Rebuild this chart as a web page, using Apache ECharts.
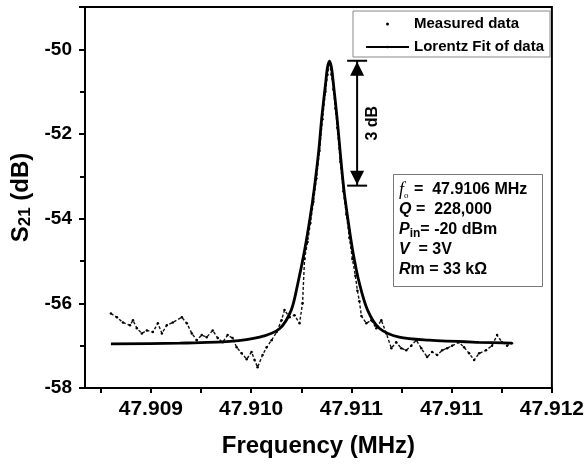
<!DOCTYPE html>
<html>
<head>
<meta charset="utf-8">
<script src="https://cdn.jsdelivr.net/npm/echarts@6/dist/echarts.min.js"></script>
<style>
  html, body { margin: 0; padding: 0; background: #fff; }
  #chart { width: 587px; height: 465px; }
</style>
</head>
<body>
<div id="chart"></div>
<script>
// measured S21 trace (MHz, dB)
const measFreq = [
  47.909071, 47.909113, 47.909155, 47.909204, 47.909225, 47.909252, 47.909287, 47.909322,
  47.909364, 47.909399, 47.909427, 47.909461, 47.909503, 47.909566, 47.909601, 47.909636,
  47.909670, 47.909705, 47.909740, 47.909782, 47.909817, 47.909851, 47.909886, 47.909921,
  47.909949, 47.909984, 47.910019, 47.910053, 47.910074, 47.910095, 47.910130, 47.910158,
  47.910193, 47.910228, 47.910262, 47.910283, 47.910318, 47.910353, 47.910388, 47.910409,
  47.910423, 47.910444, 47.910464, 47.910485, 47.910506, 47.910527, 47.910548, 47.910569,
  47.910583, 47.910597, 47.910611, 47.910625, 47.910639, 47.910652, 47.910673, 47.910694,
  47.910715, 47.910736, 47.910757, 47.910778, 47.910792, 47.910806, 47.910820,
  47.910854, 47.910889, 47.910924, 47.910959, 47.910994, 47.911029, 47.911063, 47.911098,
  47.911133, 47.911168, 47.911203, 47.911238, 47.911279, 47.911314, 47.911349, 47.911384,
  47.911419, 47.911453, 47.911502, 47.911537, 47.911572, 47.911607, 47.911642, 47.911690,
  47.911732, 47.911767, 47.911802, 47.911837, 47.911871
]
const measS21 = [
  -56.24, -56.33, -56.45, -56.52, -56.40, -56.59, -56.71, -56.64,
  -56.68, -56.47, -56.71, -56.52, -56.45, -56.33, -56.47, -56.71,
  -56.87, -56.75, -56.80, -56.64, -56.82, -56.92, -56.75, -56.82,
  -57.04, -57.18, -57.32, -57.15, -57.34, -57.51, -57.22, -57.04,
  -56.87, -56.68, -56.40, -56.16, -56.33, -56.28, -56.47, -56.00,
  -54.95, -54.55, -54.10, -53.60, -53.05, -52.40, -51.65, -51.00,
  -50.60, -50.30, -50.60, -50.95, -51.40, -51.85, -52.65, -53.35,
  -53.90, -54.45, -54.95, -55.35, -55.70, -55.95, -56.30,
  -56.47, -56.40, -56.59, -56.40, -56.71, -57.06, -56.92, -57.06,
  -57.11, -57.00, -56.87, -57.06, -57.27, -57.15, -57.22, -57.11,
  -57.06, -57.00, -56.92, -57.04, -57.18, -57.34, -57.18, -57.11,
  -57.00, -56.75, -56.92, -57.00, -56.94
]

// Lorentz fit curve
const fitFreq = [
  47.909071, 47.909552, 47.909900, 47.910109, 47.910248, 47.910330, 47.910376, 47.910423,
  47.910462, 47.910492, 47.910522, 47.910543, 47.910569, 47.910583, 47.910597, 47.910611,
  47.910625, 47.910650, 47.910671, 47.910696, 47.910724, 47.910759, 47.910806, 47.910863,
  47.910945, 47.911084, 47.911293, 47.911641, 47.911871
]
const fitS21 = [
  -56.96, -56.94, -56.90, -56.80, -56.60, -56.16, -55.53, -54.75,
  -53.97, -53.26, -52.40, -51.62, -50.83, -50.43, -50.28, -50.43,
  -50.83, -51.62, -52.40, -53.26, -53.97, -54.75, -55.53, -56.16,
  -56.59, -56.80, -56.87, -56.92, -56.94
]

// 3 dB marker: [freq, top, bottom]
const dbMarker = [[47.910790, -50.27, -53.22]]

const xTickValues = [47.90935, 47.91005, 47.91075, 47.91145, 47.91215]
const xTickLabels = ['47.909', '47.910', '47.911', '47.911', '47.912']
const xMinorValues = [47.90900, 47.90970, 47.91040, 47.91110, 47.91180]

const FONT = 'Liberation Sans, Arial, sans-serif'

const zip = (a, b) => a.map((v, i) => [v, b[i]])

var myChart = echarts.init(document.getElementById('chart'))

var option = {
    animation: false,
    backgroundColor: '#fff',
    grid: {
        left: 85, right: 34, top: 7, bottom: 77,
        show: true, borderColor: '#000', borderWidth: 2
    },
    legend: {
        orient: 'vertical',
        left: 353, top: 11,
        padding: [5, 6, 2, 12],
        borderColor: '#888', borderWidth: 1,
        backgroundColor: '#fff',
        itemWidth: 43, itemHeight: 3, itemGap: 7,
        textStyle: { fontFamily: FONT, fontWeight: 'bold', fontSize: 15, color: '#000', lineHeight: 16 },
        data: [
            { name: 'Measured data', icon: 'circle', itemStyle: { color: '#000' } },
            { name: 'Lorentz Fit of data' }
        ]
    },
    xAxis: {
        type: 'value',
        min: 47.90889, max: 47.91215,
        name: 'Frequency (MHz)',
        nameLocation: 'middle',
        nameGap: 46,
        nameTextStyle: { fontFamily: FONT, fontWeight: 'bold', fontSize: 24, color: '#000' },
        axisLine: { lineStyle: { color: '#000', width: 2 } },
        axisTick: { customValues: xTickValues.concat(xMinorValues), length: 5, lineStyle: { color: '#000', width: 2 } },
        axisLabel: {
            customValues: xTickValues,
            margin: 11,
            fontFamily: FONT, fontWeight: 'bold', fontSize: 21, color: '#000',
            formatter: v => xTickLabels[xTickValues.findIndex(t => Math.abs(t - v) < 1e-7)]
        },
        splitLine: { show: false }
    },
    yAxis: {
        type: 'value',
        min: -58, max: -49, interval: 2,
        name: '{s|S}{sub|21}{s| (dB)}',
        nameLocation: 'middle',
        nameGap: 50,
        nameRotate: 90,
        nameTextStyle: {
            rich: {
                s: { fontFamily: FONT, fontWeight: 'bold', fontSize: 24, color: '#000' },
                sub: { fontFamily: FONT, fontWeight: 'bold', fontSize: 17, color: '#000', verticalAlign: 'bottom' }
            }
        },
        axisLine: { lineStyle: { color: '#000', width: 2 } },
        axisTick: { length: 6, lineStyle: { color: '#000', width: 2 } },
        minorTick: { show: true, splitNumber: 2, length: 5, lineStyle: { color: '#000', width: 2 } },
        axisLabel: {
            margin: 13, showMaxLabel: false,
            fontFamily: FONT, fontWeight: 'bold', fontSize: 19, color: '#000'
        },
        splitLine: { show: false }
    },
    series: [
        {
            name: 'Measured data',
            type: 'line',
            data: zip(measFreq, measS21),
            symbol: 'circle',
            symbolSize: 2.5,
            showAllSymbol: true,
            itemStyle: { color: '#000' },
            lineStyle: { color: '#111', width: 1.4, type: [3, 2] },
            z: 2
        },
        {
            name: 'Lorentz Fit of data',
            type: 'line',
            data: zip(fitFreq, fitS21),
            symbol: 'none',
            smooth: 0.3,
            lineStyle: { color: '#000', width: 2.8 },
            itemStyle: { color: '#000' },
            z: 3
        },
        {
            name: '3dB',
            type: 'custom',
            data: dbMarker,
            clip: false,
            z: 4,
            renderItem: function (params, api) {
                var top = api.coord([api.value(0), api.value(1)])
                var bot = api.coord([api.value(0), api.value(2)])
                var x = top[0]
                var st = { stroke: '#000', lineWidth: 2 }
                return {
                    type: 'group',
                    children: [
                        { type: 'line', shape: { x1: x, y1: top[1], x2: x, y2: bot[1] }, style: st },
                        { type: 'line', shape: { x1: x - 10, y1: top[1], x2: x + 10, y2: top[1] }, style: st },
                        { type: 'line', shape: { x1: x - 10, y1: bot[1], x2: x + 10, y2: bot[1] }, style: st },
                        { type: 'polygon', shape: { points: [[x, top[1] + 1], [x - 7, top[1] + 15], [x + 7, top[1] + 15]] }, style: { fill: '#000' } },
                        { type: 'polygon', shape: { points: [[x, bot[1] - 1], [x - 7, bot[1] - 15], [x + 7, bot[1] - 15]] }, style: { fill: '#000' } },
                        {
                            type: 'text', x: x + 15, y: (top[1] + bot[1]) / 2, rotation: Math.PI / 2,
                            style: { text: '3 dB', fontFamily: FONT, fontWeight: 'bold', fontSize: 16, fill: '#000', align: 'center', verticalAlign: 'middle' }
                        }
                    ]
                }
            }
        }
    ],
    graphic: [
        {
            type: 'rect', left: 393, top: 174, z: 10,
            shape: { width: 149, height: 112 },
            style: { fill: '#fff', stroke: '#777', lineWidth: 1 }
        },
        {
            type: 'text', left: 399, top: 181, z: 11,
            style: {
                text: '{fi|f}{fs|o}{b| =  47.9106 MHz}\n{bi|Q}{b| =  228,000}\n{bi|P}{bs|in}{b|= -20 dBm}\n{bi|V}{b|  = 3V}\n{bi|R}{b|m = 33 kΩ}',
                rich: {
                    b: { fontFamily: FONT, fontWeight: 'bold', fontSize: 16, fill: '#000', lineHeight: 20 },
                    bi: { fontFamily: FONT, fontWeight: 'bold', fontStyle: 'italic', fontSize: 16, fill: '#000', lineHeight: 20 },
                    bs: { fontFamily: FONT, fontWeight: 'bold', fontSize: 12, fill: '#000', lineHeight: 20, verticalAlign: 'bottom' },
                    fi: { fontFamily: 'Liberation Serif, serif', fontStyle: 'italic', fontSize: 18, fill: '#000', lineHeight: 20 },
                    fs: { fontFamily: 'Liberation Serif, serif', fontSize: 9, fill: '#000', lineHeight: 20, verticalAlign: 'bottom', padding: [0, 1, 0, 0] }
                }
            }
        }
    ]
}
myChart.setOption(option)
</script>
</body>
</html>
